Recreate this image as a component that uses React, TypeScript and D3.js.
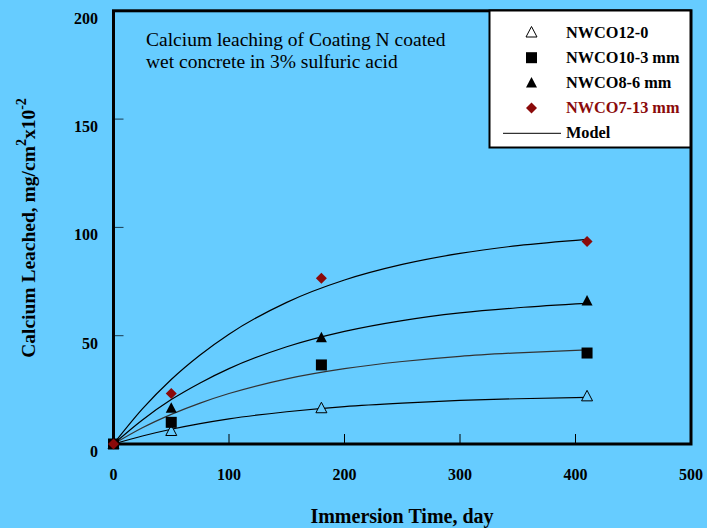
import React from "react";
import * as d3 from "d3";

// Measured leaching data (day, mg/cm² x10⁻²)
const days = [0, 50, 180, 410];
const nwco12_0 = [0, 6, 16.5, 22];
const nwco10_3 = [0, 10, 36.5, 42];
const nwco8_6 = [0, 16.5, 49, 66];
const nwco7_13 = [0, 23.3, 76.5, 93.5];

// Model curves sampled along the time axis
const modelDays = [0, 25, 50, 75, 100, 150, 200, 250, 300, 350, 410];
const model12_0 = [0, 3.7, 6.8, 9.4, 11.6, 14.9, 17.3, 18.9, 20.1, 20.9, 21.5];
const model10_3 = [0, 7.5, 13.7, 18.9, 23.3, 30.1, 34.8, 38.1, 40.5, 42.1, 43.5];
const model8_6 = [0, 11.1, 20.5, 28.2, 34.8, 44.9, 52.0, 57.0, 60.5, 62.9, 64.9];
const model7_13 = [0, 16.2, 29.8, 41.1, 50.7, 65.4, 75.7, 82.9, 88.0, 91.6, 94.5];

const xTicks = [0, 100, 200, 300, 400, 500];
const yTicks = [0, 50, 100, 150, 200];

const legendLabels = ["NWCO12-0", "NWCO10-3 mm", "NWCO8-6 mm", "NWCO7-13 mm", "Model"];

const W = 707;
const H = 528;
const BG = "#66CCFF";
const RED = "#8B0A0A";
const SERIF = "'Liberation Serif', 'Times New Roman', serif";

const x = d3.scaleLinear().domain([0, 500]).range([113.5, 691]);
const y = d3.scaleLinear().domain([0, 200]).range([444, 10.8]);

type Shape = "openTri" | "square" | "tri" | "diamond";

function Marker({ cx, cy, shape, bg }: { cx: number; cy: number; shape: Shape; bg: string }) {
  if (shape === "square") {
    return <rect x={cx - 5.5} y={cy - 5.5} width={11} height={11} fill="#000" />;
  }
  if (shape === "diamond") {
    return (
      <path
        d={`M${cx},${cy - 5.5}L${cx + 5.5},${cy}L${cx},${cy + 5.5}L${cx - 5.5},${cy}Z`}
        fill={RED}
      />
    );
  }
  const tri = `M${cx},${cy - 6}L${cx + 5.5},${cy + 4.5}L${cx - 5.5},${cy + 4.5}Z`;
  if (shape === "openTri") {
    return <path d={tri} fill={bg} stroke="#000" strokeWidth={1} />;
  }
  return <path d={tri} fill="#000" />;
}

export default function App() {
  const line = d3
    .line<[number, number]>()
    .x((d) => x(d[0]))
    .y((d) => y(d[1]))
    .curve(d3.curveMonotoneX);

  const models = [model12_0, model10_3, model8_6, model7_13];
  const series: { vals: number[]; shape: Shape }[] = [
    { vals: nwco12_0, shape: "openTri" },
    { vals: nwco8_6, shape: "tri" },
    { vals: nwco10_3, shape: "square" },
    { vals: nwco7_13, shape: "diamond" },
  ];
  const legendShapes: Shape[] = ["openTri", "square", "tri", "diamond"];

  return (
    <svg
      width={W}
      height={H}
      style={{ position: "absolute", left: 0, top: 0, display: "block" }}
      fontFamily={SERIF}
    >
      <rect x={0} y={0} width={W} height={H} fill={BG} />

      {/* model curves */}
      {models.map((m, i) => (
        <path
          key={i}
          d={line(modelDays.map((d, j) => [d, m[j]] as [number, number])) || ""}
          fill="none"
          stroke={i === 1 ? "#333" : "#000"}
          strokeWidth={1.2}
        />
      ))}

      {/* ticks */}
      {xTicks.slice(1, -1).map((t) => (
        <line key={t} x1={x(t)} x2={x(t)} y1={y(0)} y2={y(0) - 10} stroke="#000" strokeWidth={1} />
      ))}
      {yTicks.slice(1, -1).map((t) => (
        <line key={t} x1={x(0)} x2={x(0) + 10} y1={y(t)} y2={y(t)} stroke="#1a3a50" strokeWidth={1} />
      ))}

      {/* frame */}
      <rect
        x={x(0)}
        y={y(200)}
        width={x(500) - x(0)}
        height={y(0) - y(200)}
        fill="none"
        stroke="#000"
        strokeWidth={3}
      />

      {/* measured points */}
      {series.map((s, i) =>
        s.vals.map((v, j) => (
          <Marker key={`${i}-${j}`} cx={x(days[j])} cy={y(v)} shape={s.shape} bg={BG} />
        ))
      )}

      {/* tick labels */}
      {xTicks.map((t) => (
        <text key={t} x={x(t)} y={480} textAnchor="middle" fontSize={16} fontWeight="bold">
          {t}
        </text>
      ))}
      {yTicks.map((t) => (
        <text key={t} x={98} y={y(t) + 13} textAnchor="end" fontSize={16} fontWeight="bold">
          {t}
        </text>
      ))}

      {/* axis titles */}
      <text x={402} y={523} textAnchor="middle" fontSize={20} fontWeight="bold">
        Immersion Time, day
      </text>
      <text
        transform="translate(35,228) rotate(-90)"
        textAnchor="middle"
        fontSize={19.5}
        fontWeight="bold"
      >
        Calcium Leached, mg/cm
        <tspan fontSize={14} dy={-9}>2</tspan>
        <tspan dy={9}>x10</tspan>
        <tspan fontSize={14} dy={-9}>-2</tspan>
      </text>

      {/* annotation */}
      <text x={146} y={46} fontSize={19.5}>
        Calcium leaching of Coating N coated
      </text>
      <text x={146} y={68} fontSize={19.5}>
        wet concrete in 3% sulfuric acid
      </text>

      {/* legend */}
      <rect x={489.5} y={10.5} width={201} height={137} fill="#fff" stroke="#000" strokeWidth={2} />
      {legendLabels.map((lab, i) => {
        const cy = 32.5 + i * 25.2;
        return (
          <g key={lab}>
            {i < 4 ? (
              <Marker cx={531.5} cy={cy} shape={legendShapes[i]} bg="#fff" />
            ) : (
              <line x1={503} x2={561} y1={cy} y2={cy} stroke="#000" strokeWidth={1} />
            )}
            <text
              x={566}
              y={cy + 5}
              fontSize={16.3}
              fontWeight="bold"
              fill={i === 3 ? RED : "#000"}
            >
              {lab}
            </text>
          </g>
        );
      })}
    </svg>
  );
}
